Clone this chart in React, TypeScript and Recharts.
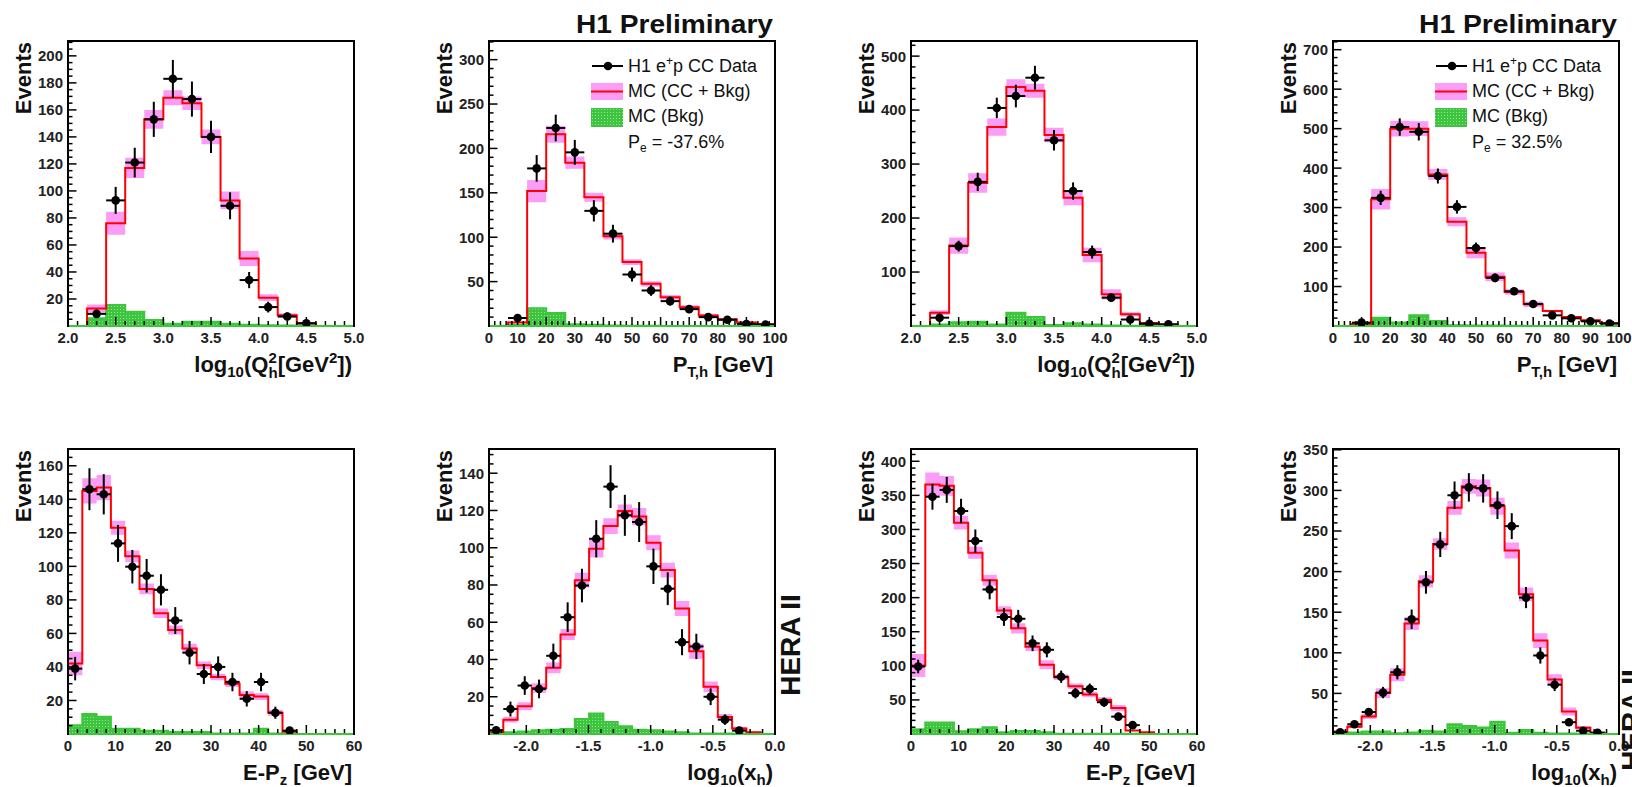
import React from "react";
import { ComposedChart, Area, Line, Scatter, ErrorBar, XAxis, YAxis } from "recharts";

const FONT = '"Liberation Sans", Arial, Helvetica, sans-serif';
const PINK = "#fb9cf7";
const RED = "#ff0000";
const GREEN = "#3cc63c";
const TM = 2;
const PLOT_W = 286;
const PLOT_H = 285;
const Y_AXIS_W = 60;
const X_AXIS_H = 40;
const PAD = 12;
const PAD_R = 25;

// bin edges
const q2Edges = [2.0, 2.2, 2.4, 2.6, 2.8, 3.0, 3.2, 3.4, 3.6, 3.8, 4.0, 4.2, 4.4, 4.6, 4.8, 5.0];
const ptEdges = [0, 6.667, 13.333, 20, 26.667, 33.333, 40, 46.667, 53.333, 60, 66.667, 73.333, 80, 86.667, 93.333, 100];
const epzEdges = [0, 3, 6, 9, 12, 15, 18, 21, 24, 27, 30, 33, 36, 39, 42, 45, 48, 51, 54, 57, 60];
const xbjEdges = [-2.3, -2.185, -2.07, -1.955, -1.84, -1.725, -1.61, -1.495, -1.38, -1.265, -1.15, -1.035, -0.92, -0.805, -0.69, -0.575, -0.46, -0.345, -0.23, -0.115, 0];

// tick labels
const q2Ticks = [2.0, 2.5, 3.0, 3.5, 4.0, 4.5, 5.0];
const ptTicks = [0, 10, 20, 30, 40, 50, 60, 70, 80, 90, 100];
const epzTicks = [0, 10, 20, 30, 40, 50, 60];
const xbjTicks = [-2.0, -1.5, -1.0, -0.5, 0.0];

// Pe = -37.6%
const lhQ2Mc = [0, 13, 76, 117, 153, 169, 165, 140, 93, 50, 21, 8, 2, 0, 0];
const lhQ2McErr = [0, 3, 8.5, 7.5, 7, 5.5, 5, 5.5, 6.5, 5.5, 2.5, 1.5, 1, 0, 0];
const lhQ2Bkg = [0, 5.7, 15.5, 10.6, 4.4, 1.7, 3.2, 3.2, 1.7, 1, 0.5, 0.3, 0.2, 0, 0];
const lhQ2Data = [null, 9, 93, 121, 153, 183, 168, 140, 89, 34, 14, 7, 2, null, null];
const lhQ2DataErr = [0, 3, 10, 11, 13, 14, 13, 12, 10, 6, 4, 3, 1.5, 0, 0];

const lhPtMc = [0, 4, 152, 216, 184, 145, 101, 72, 47.5, 32.4, 21, 11.7, 7.5, 4, 2.3];
const lhPtMcErr = [0, 1, 12.5, 9.5, 7, 5, 3.5, 3.3, 3, 2.5, 2.5, 2, 1.5, 1, 1];
const lhPtBkg = [0, 1, 20, 14.7, 2, 1.5, 0.5, 0.3, 0.2, 0.1, 0, 0, 0, 0, 0];
const lhPtData = [null, 9, 177.5, 223, 195.6, 129.7, 104, 58, 40, 28, 19, 10, 7, 2.3, 1.5];
const lhPtDataErr = [0, 3, 15, 15, 14, 12, 10, 8, 6, 5, 4.5, 3, 2.6, 1.5, 1.2];

const lhEpzMc = [42, 145, 147, 123, 106, 86.5, 72, 62, 51, 41, 34, 30, 23.3, 22.3, 12.7, 1.4, 0, 0, 0, 0];
const lhEpzMcErr = [7, 7.5, 7.5, 4.2, 3.5, 3.2, 2.8, 2.7, 2.8, 2.3, 2, 2, 2, 2, 1.8, 0.5, 0, 0, 0, 0];
const lhEpzBkg = [5.2, 12, 10.3, 3.2, 3.2, 2, 2, 1.2, 1.2, 1.2, 0.3, 0.3, 0.3, 3.2, 0.3, 0, 0, 0, 0, 0];
const lhEpzData = [39, 146, 143, 113.7, 99.8, 94.4, 86, 67.7, 48.5, 35.8, 40, 31, 21, 31, 12.7, 2, null, null, null, null];
const lhEpzDataErr = [7, 12.5, 12, 11, 10, 10, 9.3, 8, 7, 6, 6.3, 5.5, 4.6, 5.5, 3.6, 1.4, 0, 0, 0, 0];

const lhXMc = [1, 7.7, 14.9, 24.7, 35.5, 53.4, 82.6, 99.5, 111.6, 119.7, 116.7, 102.7, 88, 67.4, 44.4, 25.3, 9.1, 2.9, 0.9, 0];
const lhXMcErr = [0.5, 1.5, 2.1, 2.5, 2.9, 3, 4, 4.7, 4.2, 3.5, 4.6, 4, 4, 4, 4, 2.9, 1.7, 1, 0.5, 0];
const lhXBkg = [1, 1, 1.4, 2, 2.3, 2.7, 8, 11, 6.5, 4.1, 2.3, 2, 1.4, 0.9, 0.3, 0.3, 0.3, 0.2, 0, 0];
const lhXData = [2, 13.4, 26, 24.2, 42, 62.7, 79.7, 104.8, 132.8, 117.4, 113.8, 90, 78, 49.3, 47, 20, 7.7, 1.8, null, null];
const lhXDataErr = [1.5, 4, 5, 5, 6.5, 8, 9, 10, 11.5, 11, 10.7, 9.5, 8.8, 7, 6.8, 4.5, 2.8, 1.3, 0, 0];

// Pe = 32.5%
const rhQ2Mc = [0, 24.7, 149, 265, 368.5, 442.6, 436, 353.7, 237.6, 131.5, 58.6, 21.6, 5.5, 3, 0];
const rhQ2McErr = [0, 4.5, 15, 18, 16, 14.5, 13, 13.5, 14, 13.5, 9.5, 4, 2, 1.5, 0];
const rhQ2Bkg = [0, 3, 6.8, 8, 3, 24.7, 16.7, 2, 5, 3, 1, 0.5, 0.3, 0, 0];
const rhQ2Data = [null, 15.4, 148, 267, 404, 426, 460, 344, 250, 137, 52.5, 12, 4, 3, null];
const rhQ2DataErr = [0, 6, 10, 17, 19, 21, 22, 19, 16, 12, 7, 4, 2.5, 2, 0];

const rhPtMc = [0, 6, 321, 500, 500, 384, 264, 185.6, 124.6, 86.4, 55, 38, 23, 14.4, 7.6];
const rhPtMcErr = [0, 1.5, 26, 20, 18.5, 13.5, 11.5, 14, 11, 7, 7, 3, 2.5, 2, 1.5];
const rhPtBkg = [0, 2.5, 21, 9, 27, 12.7, 2, 1.5, 1, 0.5, 0, 0, 0, 0, 0];
const rhPtData = [null, 8.5, 324.6, 504, 492, 380, 301.7, 197.5, 122, 88, 55.9, 27, 19.5, 12, 6];
const rhPtDataErr = [0, 3, 18, 22, 22, 19, 17, 14, 11, 9, 7.5, 5, 4.4, 3.5, 2.5];

const rhEpzMc = [100.5, 366, 364, 310, 266, 225.5, 181, 155, 128, 101.5, 83.3, 70, 57.8, 50, 38, 5, 2.5, 0, 0, 0];
const rhEpzMcErr = [17, 17.5, 14.5, 10, 8.8, 8, 6.5, 7.5, 6.3, 6.6, 4, 4, 4, 4, 4.5, 1, 0.5, 0, 0, 0];
const rhEpzBkg = [7, 17, 17, 4, 7, 10, 2.5, 4.5, 4.5, 2.5, 0.5, 0.5, 0.5, 0.5, 0.5, 0.3, 0, 0, 0, 0];
const rhEpzData = [99, 348, 358, 327, 283, 212, 171.6, 169, 133, 123.5, 84, 60, 66, 46.6, 25.5, 13, null, null, null, null];
const rhEpzDataErr = [10, 19, 19, 18, 17, 14.5, 13, 13, 11.5, 11, 9, 7.7, 8, 6.8, 5, 3.6, 0, 0, 0, 0];

const rhXMc = [3, 9, 21.5, 50.4, 73, 136, 188, 234, 278.5, 305, 303, 280.6, 226, 172, 115, 67, 27.7, 7.8, 1.6, 0];
const rhXMcErr = [1, 2, 3, 6, 8, 8, 7.5, 7, 8.5, 9, 10.5, 10.5, 10, 8.5, 9, 6.5, 5, 2, 1, 0];
const rhXBkg = [1, 2, 3, 3, 1, 2, 4, 3, 12, 10, 8, 15, 1.6, 5, 1.6, 0.5, 0.5, 0.3, 0.2, 0];
const rhXData = [2, 12, 27, 51, 76, 141.3, 186.8, 233.5, 294, 303.7, 302.5, 281.8, 256, 168, 96.7, 60.7, 14.5, 4, 1.6, null];
const rhXDataErr = [1.4, 3.5, 5, 7, 8.7, 12, 14, 15.5, 17, 17.5, 17.5, 17, 16, 13, 10, 7.8, 3.8, 2, 1.3, 0];

type Panel = {
  id: string;
  left: number;
  top: number;
  edges: number[];
  mc: number[];
  mcErr: number[];
  bkg: number[];
  data: (number | null)[];
  dataErr: number[];
  xMajor: number[];
  xMinor: number;
  xDec: number;
  yMax: number;
  yMajor: number[];
  yMinor: number;
  title: "q2" | "pt" | "epz" | "x";
};

const COLS = [68, 489, 911, 1333];
const ROWS = [41, 449];

const panels: Panel[] = [
  { id: "a", left: COLS[0], top: ROWS[0], edges: q2Edges, mc: lhQ2Mc, mcErr: lhQ2McErr, bkg: lhQ2Bkg, data: lhQ2Data, dataErr: lhQ2DataErr, xMajor: q2Ticks, xMinor: 0.1, xDec: 1, yMax: 211, yMajor: [20, 40, 60, 80, 100, 120, 140, 160, 180, 200], yMinor: 5, title: "q2" },
  { id: "b", left: COLS[1], top: ROWS[0], edges: ptEdges, mc: lhPtMc, mcErr: lhPtMcErr, bkg: lhPtBkg, data: lhPtData, dataErr: lhPtDataErr, xMajor: ptTicks, xMinor: 2, xDec: 0, yMax: 321, yMajor: [50, 100, 150, 200, 250, 300], yMinor: 10, title: "pt" },
  { id: "c", left: COLS[2], top: ROWS[0], edges: q2Edges, mc: rhQ2Mc, mcErr: rhQ2McErr, bkg: rhQ2Bkg, data: rhQ2Data, dataErr: rhQ2DataErr, xMajor: q2Ticks, xMinor: 0.1, xDec: 1, yMax: 528, yMajor: [100, 200, 300, 400, 500], yMinor: 20, title: "q2" },
  { id: "d", left: COLS[3], top: ROWS[0], edges: ptEdges, mc: rhPtMc, mcErr: rhPtMcErr, bkg: rhPtBkg, data: rhPtData, dataErr: rhPtDataErr, xMajor: ptTicks, xMinor: 2, xDec: 0, yMax: 722, yMajor: [100, 200, 300, 400, 500, 600, 700], yMinor: 20, title: "pt" },
  { id: "e", left: COLS[0], top: ROWS[1], edges: epzEdges, mc: lhEpzMc, mcErr: lhEpzMcErr, bkg: lhEpzBkg, data: lhEpzData, dataErr: lhEpzDataErr, xMajor: epzTicks, xMinor: 2, xDec: 0, yMax: 170, yMajor: [20, 40, 60, 80, 100, 120, 140, 160], yMinor: 5, title: "epz" },
  { id: "f", left: COLS[1], top: ROWS[1], edges: xbjEdges, mc: lhXMc, mcErr: lhXMcErr, bkg: lhXBkg, data: lhXData, dataErr: lhXDataErr, xMajor: xbjTicks, xMinor: 0.1, xDec: 1, yMax: 153, yMajor: [20, 40, 60, 80, 100, 120, 140], yMinor: 5, title: "x" },
  { id: "g", left: COLS[2], top: ROWS[1], edges: epzEdges, mc: rhEpzMc, mcErr: rhEpzMcErr, bkg: rhEpzBkg, data: rhEpzData, dataErr: rhEpzDataErr, xMajor: epzTicks, xMinor: 2, xDec: 0, yMax: 418, yMajor: [50, 100, 150, 200, 250, 300, 350, 400], yMinor: 10, title: "epz" },
  { id: "h", left: COLS[3], top: ROWS[1], edges: xbjEdges, mc: rhXMc, mcErr: rhXMcErr, bkg: rhXBkg, data: rhXData, dataErr: rhXDataErr, xMajor: xbjTicks, xMinor: 0.1, xDec: 1, yMax: 351, yMajor: [50, 100, 150, 200, 250, 300, 350], yMinor: 10, title: "x" },
];

const isIn = (v: number, list: number[]) => list.some((m) => Math.abs(m - v) < 1e-6);

function minorTicks(lo: number, hi: number, step: number, majors: number[]) {
  const out: number[] = [];
  const n = Math.floor((hi - lo) / step + 1e-6);
  for (let k = 0; k <= n; k++) {
    const v = +(lo + k * step).toFixed(6);
    if (!isIn(v, majors)) out.push(v);
  }
  return out;
}

function XTick(props: any) {
  const { x, y, payload, majors, dec } = props;
  const v = payload.value as number;
  const major = isIn(v, majors);
  const ay = y - TM;
  return (
    <g>
      <line x1={x} x2={x} y1={ay - 1} y2={ay - (major ? 9 : 5)} stroke="#000" strokeWidth={1.5} />
      {major && (
        <text x={x} y={ay + 17} textAnchor="middle" fontSize={15} fontWeight="bold" fill="#222" fontFamily={FONT}>
          {v.toFixed(dec)}
        </text>
      )}
    </g>
  );
}

function YTick(props: any) {
  const { x, y, payload, majors } = props;
  const v = payload.value as number;
  const major = isIn(v, majors);
  const ax = x + TM;
  return (
    <g>
      <line x1={ax} x2={ax + (major ? 8.5 : 4.5)} y1={y} y2={y} stroke="#000" strokeWidth={1.5} />
      {major && (
        <text x={ax - 5} y={y} dy="0.36em" textAnchor="end" fontSize={15} fontWeight="bold" fill="#222" fontFamily={FONT}>
          {v}
        </text>
      )}
    </g>
  );
}

function HistPanel({ p }: { p: Panel }) {
  const n = p.mc.length;
  const x0 = p.edges[0];
  const x1 = p.edges[n];

  // step rows at bin edges (last edge repeats the last bin)
  const rows = p.edges.map((e, i) => {
    const j = Math.min(i, n - 1);
    return {
      x: e,
      band: [Math.max(0, p.mc[j] - p.mcErr[j]), p.mc[j] + p.mcErr[j]],
      bkg: p.bkg[j],
    };
  });

  // red outline, closed down to zero at both ends
  const first = p.mc.findIndex((v) => v > 0);
  let last = n - 1;
  while (last > 0 && p.mc[last] <= 0) last--;
  const red: { x: number; mc: number }[] = [{ x: p.edges[first], mc: 0 }];
  for (let i = first; i <= last; i++) red.push({ x: p.edges[i], mc: p.mc[i] });
  red.push({ x: p.edges[last + 1], mc: p.mc[last] });
  red.push({ x: p.edges[last + 1], mc: 0 });

  const pts = p.data
    .map((v, i) =>
      v == null
        ? null
        : { x: (p.edges[i] + p.edges[i + 1]) / 2, y: v, ex: (p.edges[i + 1] - p.edges[i]) / 2, ey: p.dataErr[i] }
    )
    .filter((d) => d !== null);

  const xt = [...minorTicks(x0, x1, p.xMinor, p.xMajor), ...p.xMajor];
  const yt = [...minorTicks(p.yMinor, p.yMax, p.yMinor, p.yMajor), ...p.yMajor];

  return (
    <>
      <div style={{ position: "absolute", left: p.left - Y_AXIS_W, top: p.top - PAD }}>
        <ComposedChart
          width={Y_AXIS_W + PLOT_W + PAD_R}
          height={PAD + PLOT_H + X_AXIS_H}
          data={rows}
          margin={{ top: PAD, right: PAD_R, bottom: 0, left: 0 }}
        >
          <XAxis
            type="number"
            dataKey="x"
            domain={[x0, x1]}
            allowDataOverflow
            ticks={xt}
            interval={0}
            tickSize={0}
            tickMargin={TM}
            tickLine={false}
            axisLine={{ stroke: GREEN, strokeWidth: 2 }}
            height={X_AXIS_H}
            tick={(tp: any) => <XTick {...tp} majors={p.xMajor} dec={p.xDec} />}
          />
          <YAxis
            type="number"
            domain={[0, p.yMax]}
            allowDataOverflow
            ticks={yt}
            interval={0}
            tickSize={0}
            tickMargin={TM}
            tickLine={false}
            axisLine={false}
            width={Y_AXIS_W}
            tick={(tp: any) => <YTick {...tp} majors={p.yMajor} />}
          />
          <Area type="stepAfter" dataKey="band" stroke="none" fill={PINK} fillOpacity={1} isAnimationActive={false} />
          <Line type="stepAfter" data={red} dataKey="mc" stroke={RED} strokeWidth={2} dot={false} activeDot={false} isAnimationActive={false} />
          <Area
            type="stepAfter"
            dataKey="bkg"
            stroke={GREEN}
            strokeWidth={2}
            fill="url(#bkgDots)"
            fillOpacity={1}
            isAnimationActive={false}
          />
          <Scatter
            data={pts}
            dataKey="y"
            isAnimationActive={false}
            shape={(sp: any) => <circle cx={sp.cx} cy={sp.cy} r={4.3} fill="#000" />}
          >
            <ErrorBar dataKey="ex" direction="x" width={0} stroke="#000" strokeWidth={2} isAnimationActive={false} />
            <ErrorBar dataKey="ey" direction="y" width={0} stroke="#000" strokeWidth={2} isAnimationActive={false} />
          </Scatter>
        </ComposedChart>
      </div>
      <div
        style={{
          position: "absolute",
          left: p.left - 1,
          top: p.top - 1,
          width: PLOT_W + 2,
          height: PLOT_H + 2,
          boxSizing: "border-box",
          borderTop: "2px solid #000",
          borderLeft: "2px solid #000",
          borderRight: "2px solid #000",
          pointerEvents: "none",
        }}
      />
    </>
  );
}

function XTitle({ p }: { p: Panel }) {
  const right = p.left + PLOT_W - 2;
  const base = p.top + PLOT_H + 46;
  const common = { x: right, y: base, textAnchor: "end" as const, fontSize: 22, fontWeight: "bold" as const, fontFamily: FONT, fill: "#111" };
  if (p.title === "q2")
    return (
      <text {...common}>
        log<tspan dy={5} fontSize={15}>10</tspan>
        <tspan dy={-5}>(Q</tspan>
        <tspan dy={-9} fontSize={15}>2</tspan>
        <tspan dx={-8.3} dy={15} fontSize={15}>h</tspan>
        <tspan dy={-6}>[GeV</tspan>
        <tspan dy={-9} fontSize={15}>2</tspan>
        <tspan dy={9}>])</tspan>
      </text>
    );
  if (p.title === "pt")
    return (
      <text {...common}>
        P<tspan dy={5} fontSize={15}>T,h</tspan>
        <tspan dy={-5}>{" [GeV]"}</tspan>
      </text>
    );
  if (p.title === "epz")
    return (
      <text {...common}>
        E-P<tspan dy={5} fontSize={15}>z</tspan>
        <tspan dy={-5}>{" [GeV]"}</tspan>
      </text>
    );
  return (
    <text {...common}>
      log<tspan dy={5} fontSize={15}>10</tspan>
      <tspan dy={-5}>(x</tspan>
      <tspan dy={5} fontSize={15}>h</tspan>
      <tspan dy={-5}>)</tspan>
    </text>
  );
}

function LegendBox({ left, top, pe }: { left: number; top: number; pe: string }) {
  const bx = left + 102;
  const tx = left + 139;
  return (
    <g fontFamily={FONT} fontSize={18} fill="#111">
      <line x1={bx + 1} x2={bx + 32} y1={top + 25} y2={top + 25} stroke="#000" strokeWidth={2} />
      <circle cx={bx + 17} cy={top + 25} r={4.3} fill="#000" />
      <rect x={bx} y={top + 42} width={32} height={17} fill={PINK} />
      <line x1={bx} x2={bx + 32} y1={top + 50.5} y2={top + 50.5} stroke={RED} strokeWidth={2} />
      <rect x={bx} y={top + 67} width={32} height={19} fill="url(#bkgDots)" />
      <text x={tx} y={top + 31}>
        H1 e<tspan dy={-7} fontSize={12}>+</tspan>
        <tspan dy={7}>p CC Data</tspan>
      </text>
      <text x={tx} y={top + 56}>MC (CC + Bkg)</text>
      <text x={tx} y={top + 81}>MC (Bkg)</text>
      <text x={tx} y={top + 107}>
        P<tspan dy={4} fontSize={12}>e</tspan>
        <tspan dy={-4}>{" = " + pe}</tspan>
      </text>
    </g>
  );
}

export default function App() {
  return (
    <div
      style={{
        position: "absolute",
        left: 0,
        top: 0,
        width: 1632,
        height: 787,
        overflow: "hidden",
        background: "#fff",
        fontFamily: FONT,
      }}
    >
      <svg width={0} height={0} style={{ position: "absolute" }}>
        <defs>
          <pattern id="bkgDots" width="3" height="3" patternUnits="userSpaceOnUse">
            <rect width="3" height="3" fill="#3ec43e" />
            <rect x="1" y="1" width="1" height="1" fill="#8fe88f" />
          </pattern>
        </defs>
      </svg>
      {panels.map((p) => (
        <HistPanel key={p.id} p={p} />
      ))}
      <svg width={1632} height={787} style={{ position: "absolute", left: 0, top: 0, pointerEvents: "none" }}>
        {panels.map((p) => (
          <g key={p.id}>
            <text
              transform={`translate(${p.left - 37}, ${p.top + 1}) rotate(-90)`}
              textAnchor="end"
              fontSize={22}
              fontWeight="bold"
              fontFamily={FONT}
              fill="#111"
            >
              Events
            </text>
            <XTitle p={p} />
          </g>
        ))}
        <text x={576} y={33} fontSize={25} fontWeight="bold" fontFamily={FONT} fill="#111" textLength={197} lengthAdjust="spacingAndGlyphs">
          H1 Preliminary
        </text>
        <text x={1419} y={33} fontSize={25} fontWeight="bold" fontFamily={FONT} fill="#111" textLength={198} lengthAdjust="spacingAndGlyphs">
          H1 Preliminary
        </text>
        <LegendBox left={COLS[1]} top={ROWS[0]} pe="-37.6%" />
        <LegendBox left={COLS[3]} top={ROWS[0]} pe="32.5%" />
        <text transform="translate(800, 645) rotate(-90)" textAnchor="middle" fontSize={28} fontWeight="bold" fontFamily={FONT} fill="#111">
          HERA II
        </text>
        <text transform="translate(1641, 720) rotate(-90)" textAnchor="middle" fontSize={28} fontWeight="bold" fontFamily={FONT} fill="#111">
          HERA II
        </text>
      </svg>
    </div>
  );
}
